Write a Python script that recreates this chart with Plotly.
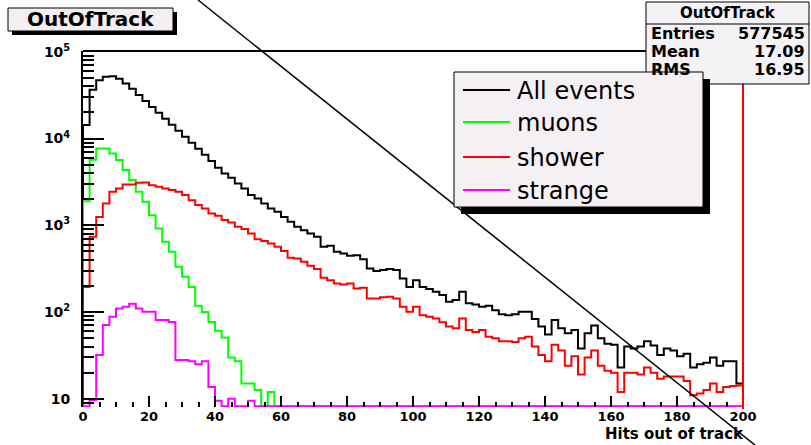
import numpy as np
import plotly.graph_objects as go

# ---------------- data ----------------
BIN_WIDTH = 2
X_MIN, X_MAX = 0, 200
bin_edges = np.arange(X_MIN, X_MAX, BIN_WIDTH)

all_events = [14300, 36500, 47200, 51500, 52500, 48900, 43300, 37500, 31900, 27200,
              23200, 19800, 16900, 14400, 12300, 10500, 8930, 7620, 6500, 5500,
              4600, 3950, 3530, 3030, 2660, 2230, 2040, 1780, 1560, 1430,
              1250, 1100, 960, 880, 805, 736, 565, 580, 495, 473,
              445, 453, 407, 318, 297, 305, 313, 305, 244, 195,
              233, 195, 184, 171, 157, 131, 138, 171, 126, 122,
              115, 118, 105, 94, 92, 94, 101, 101, 83, 68,
              55, 81, 65, 57, 62, 38, 57, 70, 50, 43,
              42, 23, 40, 38, 40, 46, 41, 32, 38, 36,
              31, 33, 23, 25, 26, 30, 24, 27, 27, 15]

muons = [1900, 5690, 7680, 7700, 6730, 5650, 4330, 3320, 2430, 1870,
         1310, 918, 645, 495, 332, 255, 195, 118, 100, 77,
         61, 51, 30, 27, 15, 15, 12.6, 0, 12, 0,
         0, 0, 0, 0, 0, 0, 0, 0, 0, 0,
         0, 0, 0, 0, 0, 0, 0, 0, 0, 0,
         0, 0, 0, 0, 0, 0, 0, 0, 0, 0,
         0, 0, 0, 0, 0, 0, 0, 0, 0, 0,
         0, 0, 0, 0, 0, 0, 0, 0, 0, 0,
         0, 0, 0, 0, 0, 0, 0, 0, 0, 0,
         0, 0, 0, 0, 0, 0, 0, 0, 0, 0]

shower = [195, 736, 1250, 1780, 2430, 2660, 2950, 2950, 3090, 3110,
          2900, 2780, 2660, 2550, 2430, 2230, 1950, 1710, 1560, 1370,
          1290, 1150, 1080, 960, 904, 805, 693, 658, 617, 565,
          505, 422, 414, 379, 341, 313, 248, 233, 213, 208,
          213, 187, 190, 143, 143, 148, 150, 143, 115, 101,
          115, 92, 88, 84, 76, 68, 65, 84, 62, 59,
          62, 52, 50, 46, 46, 45, 50, 52, 40, 32,
          27, 42, 36, 24, 31, 19, 30, 36, 24, 21,
          20, 12, 20, 20, 19, 23, 20, 17, 18, 18,
          18, 16, 11, 11.5, 12.6, 15, 12, 13.7, 14, 14.2]

strange = [0, 9.7, 32, 71, 88, 110, 115, 125, 110, 101,
           101, 81, 81, 77, 28, 28, 27, 25, 27, 13.7,
           9.5, 0, 10, 0, 0, 9.5, 0, 0, 0, 0,
           0, 0, 0, 0, 0, 0, 0, 0, 0, 0,
           0, 0, 0, 0, 0, 0, 0, 0, 0, 0,
           0, 0, 0, 0, 0, 0, 0, 0, 0, 0,
           0, 0, 0, 0, 0, 0, 0, 0, 0, 0,
           0, 0, 0, 0, 0, 0, 0, 0, 0, 0,
           0, 0, 0, 0, 0, 0, 0, 0, 0, 0,
           0, 0, 0, 0, 0, 0, 0, 0, 0, 0]

series_names = ["All events", "muons", "shower", "strange"]
series_colors = ["#000000", "#00ff00", "#ff0000", "#ff00ff"]

hist_title = "OutOfTrack"
stats_labels = ["Entries", "Mean", "RMS"]
stats_values = ["577545", "17.09", "16.95"]
x_title = "Hits out of track"

y_tick_vals = [10, 100, 1000, 10000, 100000]
y_tick_text = ["10", "10<sup>2</sup>", "10<sup>3</sup>", "10<sup>4</sup>", "10<sup>5</sup>"]

# ---------------- layout constants ----------------
W, H = 811, 445
ML, MR, MT, MB = 83, 68, 51, 38
PW, PH = W - ML - MR, H - MT - MB
LOG_LO, LOG_HI = 0.905, 5.01
Y_FLOOR = 10 ** 0.914
FONT = "DejaVu Sans"


def px(x):
    return (x - ML) / PW


def py(y):
    return (H - MB - y) / PH


def hist_xy(vals):
    v = [max(val, Y_FLOOR) for val in vals]
    x = [X_MIN] + list(bin_edges) + [X_MAX, X_MAX]
    y = [Y_FLOOR] + v + [v[-1], Y_FLOOR]
    return x, y


fig = go.Figure()
for name, vals, col in zip(series_names, [all_events, muons, shower, strange], series_colors):
    hx, hy = hist_xy(vals)
    fig.add_trace(go.Scatter(x=hx, y=hy, mode="lines", name=name,
                             line=dict(color=col, width=2, shape="hv"),
                             showlegend=False, hoverinfo="skip"))

minor_y = [k * 10 ** n for n in range(0, 5) for k in range(2, 10) if 10 ** LOG_LO < k * 10 ** n < 10 ** LOG_HI]

shapes = []
ann = []

# frame top and right
shapes.append(dict(type="line", xref="paper", yref="paper", x0=0, x1=1, y0=1, y1=1,
                   line=dict(color="black", width=2)))
shapes.append(dict(type="line", xref="paper", yref="paper", x0=1, x1=1, y0=py(409), y1=1,
                   line=dict(color="#ff0000", width=2)))

# title box
shapes.append(dict(type="rect", xref="paper", yref="paper", x0=px(12), x1=px(177), y0=py(35), y1=py(12),
                   fillcolor="black", line=dict(width=0)))
shapes.append(dict(type="rect", xref="paper", yref="paper", x0=px(8), x1=px(173), y0=py(31), y1=py(8),
                   fillcolor="#f2eef2", line=dict(color="black", width=1)))
ann.append(dict(text="<b>" + hist_title + "</b>", xref="paper", yref="paper", x=px(90.5), y=py(19.5),
                xanchor="center", yanchor="middle", showarrow=False,
                font=dict(family=FONT, size=20, color="black")))

# diagonal line
shapes.append(dict(type="line", xref="paper", yref="paper", x0=px(198), y0=py(0), x1=px(755), y1=py(445),
                   line=dict(color="black", width=1.5)))

# stats box
shapes.append(dict(type="rect", xref="paper", yref="paper", x0=px(646), x1=px(809), y0=py(84), y1=py(2),
                   fillcolor="#f4f2f4", line=dict(color="black", width=1)))
shapes.append(dict(type="line", xref="paper", yref="paper", x0=px(646), x1=px(809), y0=py(24), y1=py(24),
                   line=dict(color="black", width=1)))
ann.append(dict(text="<b>" + hist_title + "</b>", xref="paper", yref="paper", x=px(728), y=py(13),
                xanchor="center", yanchor="middle", showarrow=False,
                font=dict(family=FONT, size=15, color="black")))
for i, (lab, val) in enumerate(zip(stats_labels, stats_values)):
    yy = 33 + 18 * i
    ann.append(dict(text="<b>" + lab + "</b>", xref="paper", yref="paper", x=px(649), y=py(yy),
                    xanchor="left", yanchor="middle", showarrow=False,
                    font=dict(family=FONT, size=16, color="black")))
    ann.append(dict(text="<b>" + val + "</b>", xref="paper", yref="paper", x=px(807), y=py(yy),
                    xanchor="right", yanchor="middle", showarrow=False,
                    font=dict(family=FONT, size=16, color="black")))

# legend box
shapes.append(dict(type="rect", xref="paper", yref="paper", x0=px(461), x1=px(710), y0=py(214), y1=py(79),
                   fillcolor="black", line=dict(width=0)))
shapes.append(dict(type="rect", xref="paper", yref="paper", x0=px(454), x1=px(703), y0=py(207), y1=py(72),
                   fillcolor="#f4f0f4", line=dict(color="black", width=1)))
for i, (name, col) in enumerate(zip(series_names, series_colors)):
    yy = [90, 122, 157, 190][i]
    shapes.append(dict(type="line", xref="paper", yref="paper", x0=px(463), x1=px(510), y0=py(yy), y1=py(yy),
                       line=dict(color=col, width=2)))
    ann.append(dict(text=name, xref="paper", yref="paper", x=px(515), y=py(yy + 1),
                    xanchor="left", yanchor="middle", showarrow=False,
                    font=dict(family=FONT, size=24, color="black")))

# x axis title
ann.append(dict(text="<b>" + x_title + "</b>", xref="paper", yref="paper", x=px(746), y=py(434),
                xanchor="right", yanchor="middle", showarrow=False,
                font=dict(family=FONT, size=15, color="black")))

fig.update_layout(
    width=W, height=H,
    margin=dict(l=ML, r=MR, t=MT, b=MB),
    paper_bgcolor="white", plot_bgcolor="white",
    shapes=shapes, annotations=ann,
    showlegend=False,
    xaxis=dict(range=[X_MIN, X_MAX], showgrid=False, zeroline=False, showline=False,
               tickmode="linear", tick0=0, dtick=20, ticks="inside", ticklen=11, tickwidth=2,
               tickcolor="black",
               tickfont=dict(family=FONT, size=13, color="black", weight="bold"),
               minor=dict(dtick=5, tick0=0, ticks="inside", ticklen=5, tickwidth=2, tickcolor="black",
                          showgrid=False)),
    yaxis=dict(type="log", range=[LOG_LO, LOG_HI], showgrid=False, zeroline=False,
               showline=True, linecolor="black", linewidth=2,
               tickmode="array", tickvals=y_tick_vals, ticktext=y_tick_text,
               ticks="inside", ticklen=21, tickwidth=2, tickcolor="black",
               ticklabelstandoff=8,
               tickfont=dict(family=FONT, size=14, color="black", weight="bold"),
               minor=dict(tickmode="array", tickvals=minor_y, ticks="inside", ticklen=11,
                          tickwidth=2, tickcolor="black", showgrid=False)),
)

fig.write_html("out.html")
